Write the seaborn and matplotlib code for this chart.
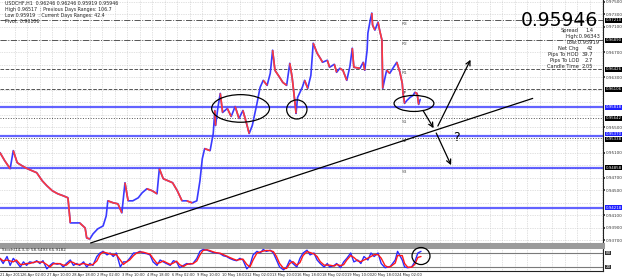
import numpy as np
import pandas as pd
import matplotlib
matplotlib.use("Agg")
import matplotlib.pyplot as plt
import matplotlib.transforms as mtransforms
from matplotlib.collections import LineCollection
from matplotlib.patches import Ellipse
import seaborn as sns

# ---------------- data ----------------
price_bar = [0,6,13,17,22,28,35,41,47,54,60,67,74,81,87,90,93,102,109,111,
             115,119,125,132,136,138,145,151,156,160,164,170,177,182,188,195,201,204,209,215,
             221,227,233,239,246,252,256,259,262,269,273,275,276,279,282,285,291,296,301,306,
             311,316,319,323,329,333,337,342,346,349,352,358,362,367,371,374,378,379,381,387,
             390,394,398,401,406,410,413,419,422,428,431,435,439,444,448,451,453,461,465,467,
             470,471,474,476,477,480,484,486,489,490,493,495,499,503,508,512,515,516,518,521,
             525,529,531,534,536,538]
price_close = [0.95098,0.9497,0.94842,0.9513,0.94938,0.9489,0.94842,0.9481,0.94778,0.9465,
               0.9457,0.9449,0.94442,0.9441,0.94378,0.93978,0.93978,0.93978,0.93898,0.93738,
               0.93722,0.93802,0.93882,0.9393,0.9409,0.9433,0.94298,0.94282,0.94138,0.94618,
               0.9433,0.9433,0.94378,0.94458,0.94522,0.9449,0.94442,0.94842,0.94682,0.9465,
               0.94618,0.9449,0.9433,0.9433,0.94298,0.9433,0.9465,0.95002,0.95162,0.9513,
               0.95402,0.9577,0.9553,0.95818,0.96042,0.95738,0.95802,0.95674,0.95834,0.95642,
               0.9577,0.95546,0.95402,0.9553,0.95882,0.96138,0.9625,0.9617,0.96362,0.9673,
               0.9641,0.96298,0.96218,0.9617,0.96522,0.96298,0.9585,0.95722,0.95978,0.96138,
               0.9625,0.96122,0.9633,0.96842,0.96682,0.96602,0.96538,0.9657,0.96458,0.96506,
               0.96378,0.96442,0.9641,0.9625,0.96474,0.96762,0.96458,0.96442,0.96538,0.9641,
               0.9673,0.97002,0.9721,0.97322,0.9713,0.9705,0.97178,0.9705,0.9689,0.96122,
               0.96298,0.9641,0.96362,0.96442,0.96538,0.96378,0.96202,0.96042,0.95882,0.9593,
               0.95978,0.9601,0.96058,0.96042,0.95866,0.95946]

stoch_bar = [0,4,9,13,17,21,26,30,34,38,43,47,51,55,60,64,68,73,77,81,
             85,90,94,98,102,107,111,115,119,124,128,132,137,141,145,149,154,158,162,166,
             171,175,179,183,188,192,196,201,205,209,213,218,222,226,230,235,239,243,247,252,
             256,260,265,269,273,277,282,286,290,294,299,303,307,311,316,320,324,329,333,337,
             341,346,350,354,358,363,367,371,375,380,
             384,388,393,397,402,406,410,415,419,422,428,431,436,440,444,449,453,458,462,466,
             471,475,479,484,488,493,497,500,506,509,515,518,522,527,531,535,539]
stoch_main = [57,35,65,27,57,42,20,42,27,42,38,47,35,47,12,27,38,32,35,20,
              35,50,27,35,27,42,20,35,27,65,80,87,72,80,65,80,20,42,42,57,
              80,80,87,80,77,72,42,27,50,42,35,27,47,42,17,27,35,32,35,57,
              87,95,92,87,82,80,77,68,65,57,50,47,57,50,12,27,72,87,80,95,
              87,92,80,50,20,8,20,50,35,20,
              57,80,92,72,80,50,35,20,35,20,27,35,17,42,57,80,42,50,35,65,
              50,80,65,80,35,17,20,23,50,87,50,20,17,20,42,80,87]
stoch_signal = [57,46,50,46,42,50,31,31,35,35,40,43,41,41,30,20,33,35,34,28,
                28,43,39,31,31,35,31,28,31,46,73,84,80,76,73,73,50,31,42,50,
                69,80,84,84,79,75,57,35,39,46,39,31,37,45,30,22,31,34,34,46,
                72,91,94,90,85,81,79,73,67,61,54,49,52,54,31,20,50,80,84,88,
                91,90,86,65,35,14,14,35,43,28,
                39,69,86,82,76,65,43,28,28,28,24,31,26,30,50,69,61,46,43,50,
                58,65,73,73,58,26,19,22,37,69,69,35,19,19,31,61,65]

x_label_bar = [0,28,60,92,124,156,188,220,252,284,316,348,380,412,444,476,508]
x_labels = ["21 Apr 2011","26 Apr 02:00","27 Apr 10:00","28 Apr 18:00","2 May 02:00",
            "3 May 10:00","4 May 18:00","6 May 02:00","9 May 10:00","10 May 18:00",
            "12 May 02:00","13 May 10:00","16 May 18:00","18 May 02:00","19 May 10:00",
            "20 May 18:00","24 May 02:00"]

y_ticks = [0.9370,0.9390,0.9410,0.9430,0.9450,0.9470,0.9490,0.9510,0.9530,0.9550,
           0.9570,0.9590,0.9610,0.9630,0.9650,0.9670,0.9690,0.9710,0.9730,0.9750]

blue_levels = [0.95818, 0.9537, 0.94858, 0.94218]
pivot_names = ["R3","R2","R1","PP","S1","S2","S3"]
pivot_levels = [0.9721, 0.9689, 0.96426, 0.96106, 0.95642, 0.95338, 0.94858]
pivot_styles = ["-.", "-.", "--", "--", ":", ":", ":"]

trend_bar = [116, 682]
trend_price = [0.93658, 0.95962]

info_labels = ["Spread", "Net Chg", "Pips To HOD", "Pips To LOD", "Candle Time"]
info_values = ["1.4", "42", "39.7", "2.7", "2.05"]
current_price = "0.95946"
day_high = "High:0.96343"
day_low = "Low:0.95919"

# ---------------- figure ----------------
sns.set_theme(style="white")
plt.rcParams["font.family"] = ["DejaVu Sans"]

W, H = 6.25, 2.79
fig = plt.figure(figsize=(W, H), dpi=100)
fig.patch.set_facecolor("white")
right = 603 / 625
ax = fig.add_axes([0, (279 - 244) / 279, right, 244 / 279])
axs = fig.add_axes([0, (279 - 271) / 279, right, 24 / 279])

XMAX = 772
YMIN, YMAX = 0.93642, 0.9753
ax.set_xlim(0, XMAX)
ax.set_ylim(YMIN, YMAX)
axs.set_xlim(0, XMAX)
axs.set_ylim(2.9, 105.7)

grid_col = "#c4c4c4"
grid_bars = [19 + 16 * k for k in range(49)]
for gb in grid_bars:
    ax.axvline(gb, color=grid_col, lw=0.5, ls=(0, (1, 1.5)), zorder=0)
    axs.axvline(gb, color=grid_col, lw=0.5, ls=(0, (1, 1.5)), zorder=0)
for yt in y_ticks:
    ax.axhline(yt, color=grid_col, lw=0.5, ls=(0, (1, 1.5)), zorder=0)

# pivot lines
for name, lv, st in zip(pivot_names, pivot_levels, pivot_styles):
    ax.axhline(lv, color="#555555", lw=0.7, ls=st, zorder=1)
    ax.text(514, lv - 0.0003, name, fontsize=3.2, color="#555555", va="top", ha="left")

# blue levels
for lv in blue_levels:
    ax.axhline(lv, color="#5252ff", lw=1.6, zorder=2, alpha=0.9)

# price
df = pd.DataFrame({"bar": price_bar, "close": price_close})
sns.lineplot(data=df, x="bar", y="close", ax=ax, color="#3a3aff", lw=1.2, zorder=4)
pts = np.column_stack([df["bar"].values, df["close"].values])
segs = [[pts[i - 1], pts[i]] for i in range(1, len(pts)) if pts[i, 1] < pts[i - 1, 1]]
ax.add_collection(LineCollection(segs, colors="#ff3a3a", linewidths=1.2, zorder=5))

# trendline
ax.plot(trend_bar, trend_price, color="black", lw=0.9, zorder=6)

# hand-drawn ellipses
for (cx, cy, w, h) in [(308, 0.95802, 74, 0.00440), (380, 0.95786, 26, 0.00304),
                       (530, 0.95882, 51, 0.00256)]:
    ax.add_patch(Ellipse((cx, cy), w, h, fill=False, ec="black", lw=0.9, zorder=7))

# arrows
arrow_kw = dict(arrowstyle="->", color="black", lw=0.9, mutation_scale=8)
ax.annotate("", xy=(557, 0.9545), xytext=(540, 0.95802), arrowprops=arrow_kw)
ax.annotate("", xy=(579, 0.94858), xytext=(557, 0.9545), arrowprops=arrow_kw)
ax.annotate("", xy=(604, 0.96618), xytext=(559, 0.95482), arrowprops=arrow_kw)
ax.text(584, 0.95338, "?", fontsize=9, ha="center", va="center", color="black")

# right axis labels
boxed = pivot_levels + blue_levels
plain_ticks = [t for t in y_ticks if min(abs(t - b) for b in boxed) > 0.0009]
ax.yaxis.tick_right()
ax.set_yticks(plain_ticks)
ax.set_yticklabels([f"{v:.5f}" for v in plain_ticks])
ax.tick_params(axis="y", labelsize=3.0, length=1.2, pad=0.8, colors="#333333")
ax.set_xticks([])
ax.set_xlabel("")
ax.set_ylabel("")
blend = mtransforms.blended_transform_factory(ax.transAxes, ax.transData)
label_offsets = {0.9537: 0.00025, 0.95338: -0.00025}
for lv in pivot_levels:
    ax.text(1.004, lv + label_offsets.get(lv, 0), f"{lv:.5f}", transform=blend, fontsize=2.8,
            color="white", va="center", ha="left", clip_on=False,
            bbox=dict(boxstyle="square,pad=0.12", fc="black", ec="none"))
for lv in blue_levels:
    if lv in pivot_levels:
        continue
    ax.text(1.004, lv + label_offsets.get(lv, 0), f"{lv:.5f}", transform=blend, fontsize=2.8,
            color="white", va="center", ha="left", clip_on=False,
            bbox=dict(boxstyle="square,pad=0.12", fc="#2020ff", ec="none"))

for s in ["top", "left"]:
    ax.spines[s].set_visible(False)
ax.spines["right"].set_color("#222222")
ax.spines["right"].set_linewidth(0.8)
ax.spines["bottom"].set_color("#9a9a9a")
ax.spines["bottom"].set_linewidth(2.2)

# top-left info
for i, line in enumerate(["USDCHF,H1  0.96246 0.96246 0.95919 0.95946",
                          "High 0.96517  : Previous Days Ranges: 106.7",
                          "Low 0.95919  : Current Days Ranges: 42.4",
                          "Pivot: 0.96106"]):
    ax.text(0.008, 0.995 - 0.024 * i, line, transform=ax.transAxes,
            fontsize=3.4, va="top", ha="left")

# top-right info panel
fx = lambda px: px / 603
fy = lambda py: 1 - py / 244
ax.text(fx(598), fy(20), current_price, transform=ax.transAxes, fontsize=13.5,
        ha="right", va="center", color="black")
ax.text(fx(579), fy(30.5), "Spread", transform=ax.transAxes, fontsize=3.7, ha="right", va="center")
ax.text(fx(593), fy(30.5), "1.4", transform=ax.transAxes, fontsize=3.7, ha="right", va="center")
ax.text(fx(600), fy(36.5), day_high, transform=ax.transAxes, fontsize=3.7, ha="right", va="center")
ax.text(fx(600), fy(42.5), day_low, transform=ax.transAxes, fontsize=3.7, ha="right", va="center")
for i, (lab, val) in enumerate(zip(info_labels[1:], info_values[1:])):
    yy = [48.5, 54.5, 60.5, 66.5][i]
    ax.text(fx(579), fy(yy), lab, transform=ax.transAxes, fontsize=3.7, ha="right", va="center")
    ax.text(fx(593), fy(yy), val, transform=ax.transAxes, fontsize=3.7, ha="right", va="center")

# ---------------- stochastic ----------------
sdf = pd.DataFrame({"bar": stoch_bar, "main": stoch_main, "signal": stoch_signal})
sns.lineplot(data=sdf, x="bar", y="main", ax=axs, color="#2a2aff", lw=1.0, zorder=3)
sns.lineplot(data=sdf, x="bar", y="signal", ax=axs, color="#ff1a1a", lw=1.0, zorder=4)
axs.axhline(80, color="#7a7a7a", lw=0.8, zorder=1)
axs.axhline(20, color="#7a7a7a", lw=0.8, zorder=1)
axs.add_patch(Ellipse((539, 67), 23, 73, fill=False, ec="black", lw=0.9, zorder=6, clip_on=False))
axs.text(0.003, 0.97, "Stoch(14,3,3) 58.5493 65.9182", transform=axs.transAxes,
         fontsize=3.0, va="top", ha="left")
axs.set_xlabel("")
axs.set_ylabel("")
axs.set_yticks([])
axs.set_xticks([])
bl2 = mtransforms.blended_transform_factory(axs.transAxes, axs.transData)
for lv in [80, 20]:
    axs.text(1.004, lv, f"{lv}", transform=bl2, fontsize=3.0, color="white", va="center",
             ha="left", clip_on=False, bbox=dict(boxstyle="square,pad=0.1", fc="#333333", ec="none"))
blx = mtransforms.blended_transform_factory(axs.transData, axs.transAxes)
for b, lab in zip(x_label_bar, x_labels):
    axs.text(b, -0.08, lab, transform=blx, fontsize=2.6, va="top", ha="left", clip_on=False,
             color="#222222")
axs.spines["left"].set_visible(False)
axs.spines["top"].set_color("#9a9a9a")
axs.spines["top"].set_linewidth(2.2)
axs.spines["right"].set_color("#222222")
axs.spines["right"].set_linewidth(0.8)
axs.spines["bottom"].set_color("#222222")
axs.spines["bottom"].set_linewidth(0.8)

fig.savefig("out.png", dpi=100)
